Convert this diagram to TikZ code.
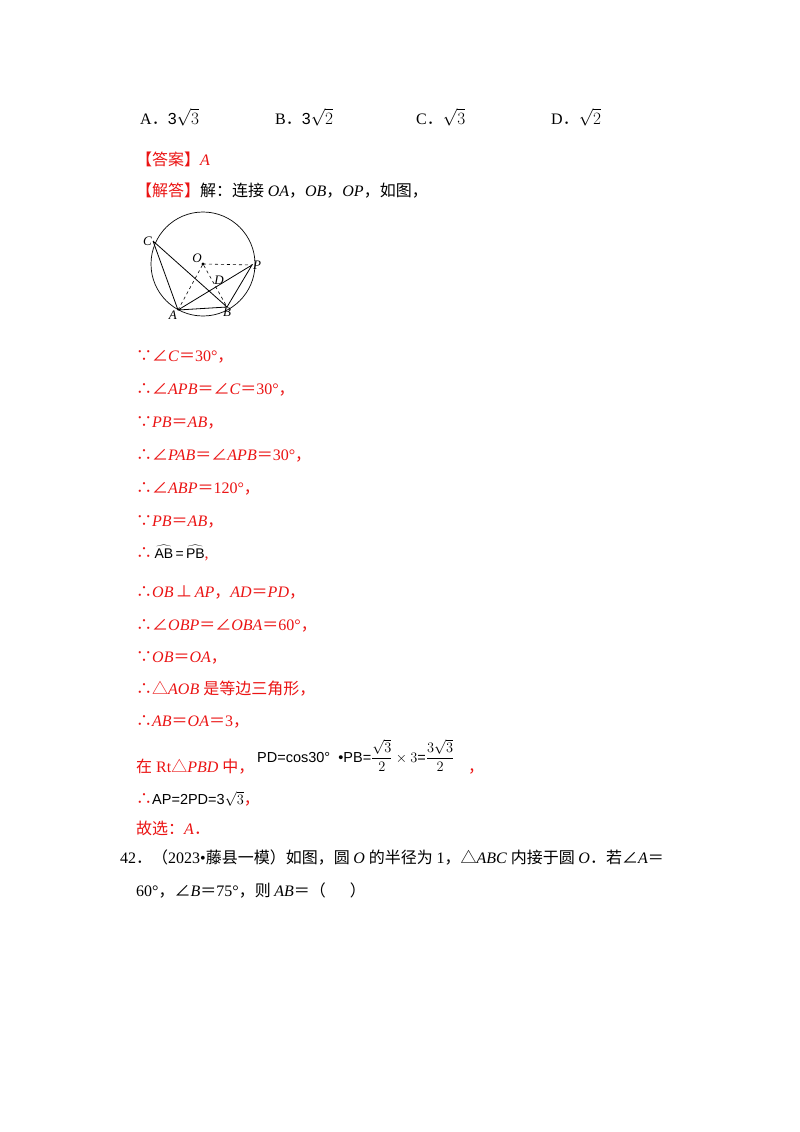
\documentclass[tikz,border=0pt]{standalone}
\usepackage{fontspec}
\setmainfont{Liberation Serif}
\newfontfamily\cjk{Noto Sans CJK SC}
\newfontfamily\arl{Liberation Sans}
\newcommand\bec{{\cjk ∵}}
\newcommand\thr{{\cjk ∴}}
\newcommand\ang{{\cjk ∠}}
\newcommand\tri{{\cjk △}}
\newcommand\eqq{{\cjk ＝}}
\newcommand\cm{{\cjk ，}}
\newcommand\pd{{\cjk ．}}
\definecolor{ans}{RGB}{235,20,20}
\begin{document}
\begin{tikzpicture}[x=1pt,y=-1pt,
  tl/.style={anchor=base west,inner sep=0pt,font=\fontsize{16}{19}\selectfont},
  rl/.style={tl,text=ans},
  pt/.style={inner sep=1pt,font=\fontsize{13}{15}\selectfont\itshape}]
\useasboundingbox (0,0) rectangle (800,1132);
\fill[white] (0,0) rectangle (800,1132);
% options
\node[tl] (oa) at (140,124) {A\pd\arl 3$\sqrt{3}$};
\node[tl] (ob) at (275,124) {B\pd\arl 3$\sqrt{2}$};
\node[tl] (oc) at (416,124) {C\pd\arl $\sqrt{3}$};
\node[tl] (od) at (551,124) {D\pd\arl $\sqrt{2}$};
\node[rl] (ans) at (136,165) {\cjk【答案】\rmfamily\itshape A};
\node[rl] (jd) at (136,196) {\cjk【解答】\color{black}解：连接 \rmfamily\itshape OA\cjk\upshape，\rmfamily\itshape OB\cjk\upshape，\rmfamily\itshape OP\cjk\upshape，如图，};
% figure
\coordinate (O) at (203,264);
\draw[line width=0.7pt] (O) circle (52);
\coordinate (C) at (153,241);
\coordinate (P) at (252,265);
\coordinate (A) at (178,310);
\coordinate (B) at (227,307);
\draw[line width=0.8pt] (C)--(A)--(B)--(P)--(A) (C)--(B);
\draw[dashed,line width=0.6pt] (A)--(O)--(B) (O)--(P);
\fill (O) circle (1.6);
\node[pt,anchor=east] (lc) at (C) {C};
\node[pt,anchor=south east] (lo) at (O) {O};
\node[pt,anchor=west] (lp) at (P) {P};
\node[pt,anchor=north east] (la) at (A) {A};
\node[pt,anchor=north] (lb) at (B) {B};
\node[pt] (ld) at (219,280) {D};
% solution
\node[rl] (s1) at (136,361) {\bec\ang\textit{C}\eqq30°\cm};
\node[rl] (s2) at (136,394) {\thr\ang\textit{APB}\eqq\ang\textit{C}\eqq30°\cm};
\node[rl] (s3) at (136,427) {\bec\textit{PB}\eqq\textit{AB}\cm};
\node[rl] (s4) at (136,460) {\thr\ang\textit{PAB}\eqq\ang\textit{APB}\eqq30°\cm};
\node[rl] (s5) at (136,493) {\thr\ang\textit{ABP}\eqq120°\cm};
\node[rl] (s6) at (136,526) {\bec\textit{PB}\eqq\textit{AB}\cm};
\node[rl] (s7) at (136,558) {\thr{\color{black}\arl\fontsize{14}{16}\selectfont\,$\widehat{\mbox{AB}}$\,=\,$\widehat{\mbox{PB}}$},};
\node[rl] (s8) at (136,597) {\thr\textit{OB}\,{\cjk ⊥}\,\textit{AP}\cm\textit{AD}\eqq\textit{PD}\cm};
\node[rl] (s9) at (136,630) {\thr\ang\textit{OBP}\eqq\ang\textit{OBA}\eqq60°\cm};
\node[rl] (s10) at (136,662) {\bec\textit{OB}\eqq\textit{OA}\cm};
\node[rl] (s11) at (136,694) {\thr\tri\textit{AOB} {\cjk 是等边三角形，}};
\node[rl] (s12) at (136,726) {\thr\textit{AB}\eqq\textit{OA}\eqq3\cm};
\node[rl] (s13) at (136,772) {{\cjk 在} Rt\tri\textit{PBD} {\cjk 中，}};
\node[tl,font=\arl\fontsize{14.5}{16}\selectfont] (f1) at (257,762) {PD=cos30° \ •PB=$\displaystyle\frac{\sqrt{3}}{2}\times3$=$\displaystyle\frac{3\sqrt{3}}{2}$};
\node[rl] (c1) at (468,772) {\cm};
\node[rl] (s14) at (136,804) {\thr{\color{black}\arl\fontsize{14.5}{16}\selectfont AP=2PD=3$\sqrt{3}$}\cm};
\node[rl] (s15) at (136,834) {{\cjk 故选：}\textit{A}\pd};
\node[tl] (q1) at (120,863) {42\pd{\cjk（}2023•{\cjk 藤县一模）如图，圆 }\textit{O} {\cjk 的半径为 }1\cm\tri\textit{ABC} {\cjk 内接于圆 }\textit{O}\pd{\cjk 若}\ang\textit{A}\eqq};
\node[tl] (q2) at (136,896) {60°\cm\ang\textit{B}\eqq75°\cm{\cjk 则 }\textit{AB}\eqq{\cjk（\quad\enspace）}};
\end{tikzpicture}
\end{document}
